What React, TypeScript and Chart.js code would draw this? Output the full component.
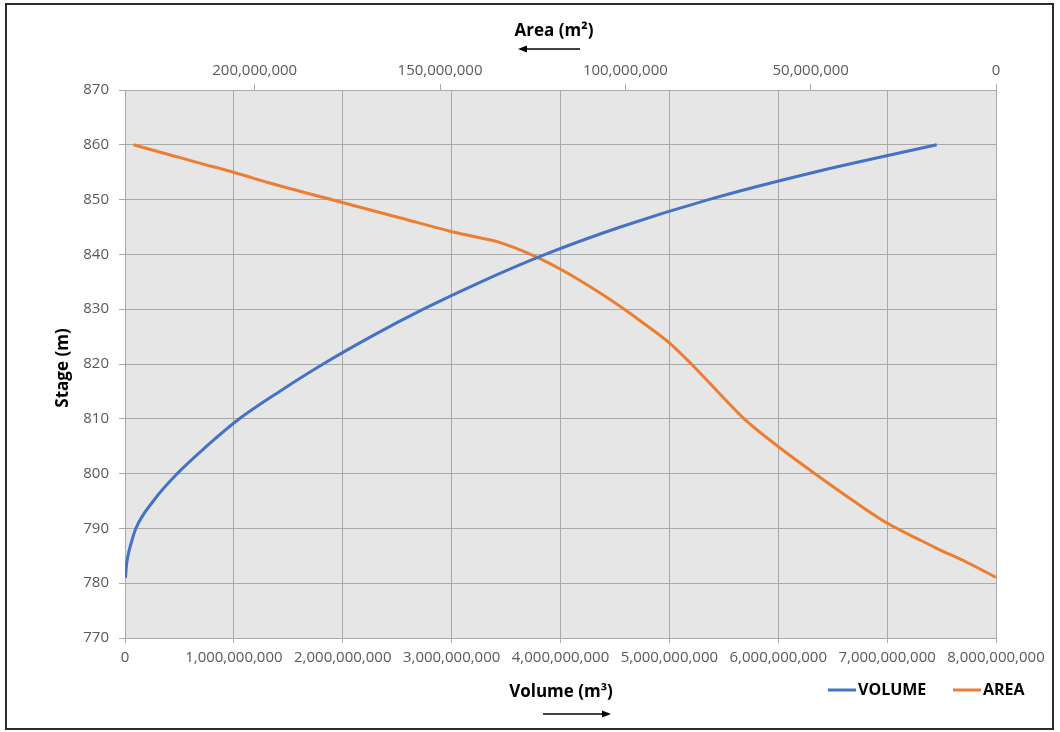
import React, { useEffect, useRef } from "react";
import { Chart, registerables } from "chart.js";

Chart.register(...registerables);

// ---- Data ----
const volumeStages = [781, 783, 785, 787, 790, 795, 800, 805, 810, 815, 820, 825, 830, 835, 840, 845, 850, 855, 860];
const volumeValues = [5e6, 12e6, 27e6, 52e6, 100e6, 260e6, 480e6, 750e6, 1050e6, 1420e6, 1820e6, 2260e6, 2740e6, 3270e6, 3860e6, 4550e6, 5360e6, 6330e6, 7455e6];

const areaStages = [860, 857.83, 856.62, 854.91, 853.08, 849.43, 846.64, 844.14, 843.12, 842.32, 839.47, 837.15, 832.9, 829.98, 827.99, 823.78, 820, 815.26, 810.09, 804.91, 800.16, 795.18, 790.93, 787.88, 786.37, 783.82, 781.07];
const areaValues = [232.7e6, 221.1e6, 214.6e6, 205.3e6, 196.2e6, 176.1e6, 160.6e6, 146.7e6, 140e6, 134.6e6, 123.8e6, 117.1e6, 106.7e6, 100.3e6, 96.2e6, 88e6, 82.2e6, 75.5e6, 68.1e6, 58.7e6, 49.2e6, 38.8e6, 29.3e6, 20.5e6, 16e6, 7.9e6, 0];

const volumeTicks = [0, 1e9, 2e9, 3e9, 4e9, 5e9, 6e9, 7e9, 8e9];
const areaTicks = [0, 50e6, 100e6, 150e6, 200e6];
const stageTicks = [770, 780, 790, 800, 810, 820, 830, 840, 850, 860, 870];

const SERIES_LABELS = ["VOLUME", "AREA"];
const SERIES_COLORS = ["#4472C4", "#ED7D31"];
const TITLE_TOP = "Area (m²)";
const TITLE_BOTTOM = "Volume (m³)";
const TITLE_LEFT = "Stage (m)";

const fmt = (v: number) => String(Math.round(v)).replace(/\B(?=(\d{3})+(?!\d))/g, ",");

const GRID = "#a9a9a9";
const TICK_COLOR = "#595959";
const FONT = '"Open Sans", "DejaVu Sans", sans-serif';

const plotBg = {
  id: "plotBg",
  beforeDraw(chart: any) {
    const { ctx, chartArea } = chart;
    ctx.save();
    ctx.fillStyle = "#e7e6e6";
    ctx.fillRect(chartArea.left, chartArea.top, chartArea.right - chartArea.left, chartArea.bottom - chartArea.top);
    ctx.restore();
  },
};

function arrow(ctx: any, x1: number, x2: number, y: number) {
  const dir = x2 > x1 ? 1 : -1;
  ctx.beginPath();
  ctx.moveTo(x1, y);
  ctx.lineTo(x2 - dir * 7, y);
  ctx.lineWidth = 1.5;
  ctx.strokeStyle = "#000";
  ctx.stroke();
  ctx.beginPath();
  ctx.moveTo(x2, y);
  ctx.lineTo(x2 - dir * 9, y - 3.5);
  ctx.lineTo(x2 - dir * 9, y + 3.5);
  ctx.closePath();
  ctx.fillStyle = "#000";
  ctx.fill();
}

const decorations = {
  id: "decorations",
  afterDraw(chart: any) {
    const ctx = chart.ctx;
    ctx.save();
    ctx.fillStyle = "#000";
    ctx.font = `bold 17px ${FONT}`;
    ctx.textAlign = "center";
    ctx.textBaseline = "middle";
    ctx.fillText(TITLE_TOP, 554, 31);
    arrow(ctx, 580, 518, 49);
    ctx.fillStyle = "#000";
    ctx.fillText(TITLE_BOTTOM, 561, 692);
    arrow(ctx, 543, 611, 714);
    ctx.save();
    ctx.translate(63, 368);
    ctx.rotate(-Math.PI / 2);
    ctx.fillStyle = "#000";
    ctx.fillText(TITLE_LEFT, 0, 0);
    ctx.restore();

    const items = [
      { x: 828, text: SERIES_LABELS[0], color: SERIES_COLORS[0] },
      { x: 953, text: SERIES_LABELS[1], color: SERIES_COLORS[1] },
    ];
    ctx.font = `bold 16px ${FONT}`;
    ctx.textAlign = "left";
    for (const it of items) {
      ctx.beginPath();
      ctx.moveTo(it.x, 690);
      ctx.lineTo(it.x + 28, 690);
      ctx.lineWidth = 3;
      ctx.strokeStyle = it.color;
      ctx.stroke();
      ctx.fillStyle = "#000";
      ctx.fillText(it.text, it.x + 30, 690);
    }
    ctx.restore();
  },
};

export default function App() {
  const ref = useRef<HTMLCanvasElement | null>(null);

  useEffect(() => {
    if (!ref.current) return;
    const volData = volumeStages.map((s, i) => ({ x: volumeValues[i], y: s }));
    const areaData = areaStages.map((s, i) => ({ x: areaValues[i], y: s }));
    const chart = new Chart(ref.current, {
      type: "scatter",
      data: {
        datasets: [
          {
            label: SERIES_LABELS[0],
            data: volData,
            xAxisID: "x",
            showLine: true,
            borderColor: SERIES_COLORS[0],
            backgroundColor: SERIES_COLORS[0],
            borderWidth: 3,
            pointRadius: 0,
            cubicInterpolationMode: "monotone",
          },
          {
            label: SERIES_LABELS[1],
            data: areaData,
            xAxisID: "x2",
            showLine: true,
            borderColor: SERIES_COLORS[1],
            backgroundColor: SERIES_COLORS[1],
            borderWidth: 3,
            pointRadius: 0,
            cubicInterpolationMode: "monotone",
          },
        ],
      },
      options: {
        animation: false,
        responsive: true,
        maintainAspectRatio: false,
        layout: { padding: { left: 0, right: 64, top: 0, bottom: 0 } },
        plugins: { legend: { display: false }, tooltip: { enabled: false } },
        scales: {
          x: {
            type: "linear",
            position: "bottom",
            min: 0,
            max: 8e9,
            afterBuildTicks: (s: any) => { s.ticks = volumeTicks.map((v) => ({ value: v })); },
            afterFit: (s: any) => { s.height = 94; },
            ticks: { callback: (v: any) => fmt(Number(v)), color: TICK_COLOR, font: { family: FONT, size: 15 }, padding: 6, maxRotation: 0, autoSkip: false },
            grid: { color: GRID, tickLength: 5, lineWidth: 1 },
            border: { color: GRID },
          },
          x2: {
            type: "linear",
            position: "top",
            reverse: true,
            min: 0,
            max: 235e6,
            afterBuildTicks: (s: any) => { s.ticks = areaTicks.map((v) => ({ value: v })); },
            afterFit: (s: any) => { s.height = 90; },
            ticks: { callback: (v: any) => fmt(Number(v)), color: TICK_COLOR, font: { family: FONT, size: 15 }, padding: 4, maxRotation: 0, autoSkip: false },
            grid: { drawOnChartArea: false, color: GRID, tickLength: 6 },
            border: { color: GRID },
          },
          y: {
            type: "linear",
            min: 770,
            max: 870,
            afterBuildTicks: (s: any) => { s.ticks = stageTicks.map((v) => ({ value: v })); },
            afterFit: (s: any) => { s.width = 125; },
            ticks: { color: TICK_COLOR, font: { family: FONT, size: 15 }, padding: 10, autoSkip: false },
            grid: { color: GRID, tickLength: 6 },
            border: { color: GRID },
          },
        },
      },
      plugins: [plotBg, decorations],
    } as any);
    return () => chart.destroy();
  }, []);

  return (
    <div style={{ position: "absolute", left: 0, top: 0, width: 1060, height: 732, background: "#fff" }}>
      <canvas ref={ref} />
      <div
        style={{
          position: "absolute",
          left: 5,
          top: 3,
          width: 1049,
          height: 727,
          boxSizing: "border-box",
          border: "2px solid #2b2b2b",
          pointerEvents: "none",
        }}
      />
    </div>
  );
}
